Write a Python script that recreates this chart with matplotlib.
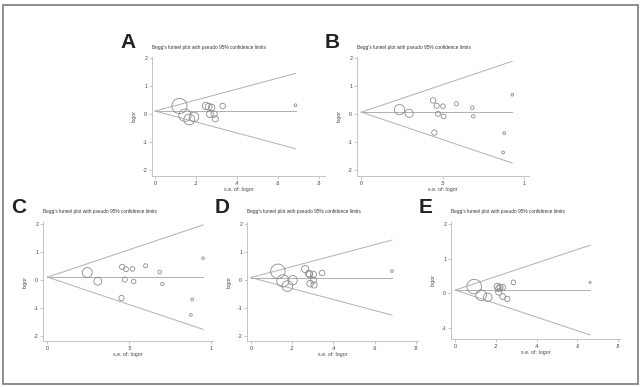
import numpy as np
import matplotlib
matplotlib.use("Agg")
import matplotlib.pyplot as plt
from matplotlib.patches import Rectangle

plt.rcParams["font.family"] = ["Liberation Sans", "DejaVu Sans"]

W, H = 643, 387
TITLE = "Begg's funnel plot with pseudo 95% confidence limits"

# per-study values: s.e. of logor and logor
A_se = [0.119, 0.146, 0.167, 0.190, 0.249, 0.262, 0.276, 0.268, 0.288, 0.294, 0.330, 0.686]
A_logor = [0.29, -0.04, -0.19, -0.10, 0.29, 0.26, 0.24, 0.00, 0.00, -0.17, 0.29, 0.32]
A_theta = 0.11

B_se = [0.235, 0.294, 0.441, 0.463, 0.502, 0.471, 0.506, 0.449, 0.584, 0.682, 0.688, 0.878, 0.871, 0.927]
B_logor = [0.17, 0.04, 0.50, 0.31, 0.29, 0.02, -0.07, -0.65, 0.38, 0.24, -0.07, -0.67, -1.36, 0.70]
B_theta = 0.08

C_se = [0.243, 0.307, 0.456, 0.479, 0.519, 0.472, 0.526, 0.452, 0.599, 0.685, 0.701, 0.883, 0.875, 0.950]
C_logor = [0.26, -0.05, 0.46, 0.38, 0.39, 0.01, -0.06, -0.65, 0.50, 0.28, -0.15, -0.70, -1.25, 0.77]
C_theta = 0.095

D_se = [0.131, 0.155, 0.177, 0.202, 0.263, 0.281, 0.284, 0.303, 0.287, 0.306, 0.303, 0.345, 0.684]
D_logor = [0.32, -0.02, -0.21, 0.00, 0.40, 0.24, 0.21, 0.21, -0.12, -0.17, 0.00, 0.26, 0.33]
D_theta = 0.095

E_se = [0.093, 0.127, 0.160, 0.207, 0.214, 0.220, 0.233, 0.214, 0.233, 0.256, 0.286, 0.663]
E_logor = [0.19, -0.06, -0.12, 0.19, 0.13, 0.17, 0.17, 0.03, -0.10, -0.17, 0.31, 0.31]
E_theta = 0.087

x_ticks_8 = [0, 0.2, 0.4, 0.6, 0.8]
x_labels_8 = ["0", ".2", ".4", ".6", ".8"]
x_ticks_1 = [0, 0.5, 1]
x_labels_1 = ["0", ".5", "1"]

# letter, data, pixel box (left, top, right, bottom), xlim, ylim, x ticks, marker scale
panels = [
    ("A", A_se, A_logor, A_theta, (152, 57, 325, 176), (-0.015, 0.83), (-2.21, 2.04), x_ticks_8, x_labels_8, [-2, -1, 0, 1, 2], 1.7),
    ("B", B_se, B_logor, B_theta, (357, 57, 529, 176), (-0.026, 1.03), (-2.2, 2.05), x_ticks_1, x_labels_1, [-2, -1, 0, 1, 2], 3.0),
    ("C", C_se, C_logor, C_theta, (43, 222, 213, 341), (-0.027, 1.01), (-2.18, 2.06), x_ticks_1, x_labels_1, [-2, -1, 0, 1, 2], 3.0),
    ("D", D_se, D_logor, D_theta, (247, 222, 418, 341), (-0.019, 0.81), (-2.17, 2.08), x_ticks_8, x_labels_8, [-2, -1, 0, 1, 2], 1.85),
    ("E", E_se, E_logor, E_theta, (451, 222, 620, 339), (-0.021, 0.81), (-1.33, 2.06), x_ticks_8, x_labels_8, [-1, 0, 1, 2], 0.95),
]

fig = plt.figure(figsize=(W / 100, H / 100), dpi=100)
fig.add_artist(Rectangle((3 / W, 1 - 384 / H), 635 / W, 379 / H, transform=fig.transFigure,
                         fill=False, edgecolor="#7a7a7a", linewidth=1.2))

for letter, se, lor, theta, (l, t, r, b), xlim, ylim, xt, xl, yt, k in panels:
    ax = fig.add_axes([l / W, 1 - b / H, (r - l) / W, (b - t) / H])
    se = np.array(se)
    lor = np.array(lor)
    smax = se.max()
    gray = "#b0b0b0"
    # pooled estimate and pseudo 95% limits (theta +/- 1.96 se)
    ax.plot([0, smax], [theta, theta], color=gray, lw=0.7)
    ax.plot([0, smax], [theta, theta + 1.96 * smax], color=gray, lw=0.7)
    ax.plot([0, smax], [theta, theta - 1.96 * smax], color=gray, lw=0.7)
    ax.scatter(se, lor, s=k / se ** 2, facecolors="none", edgecolors="#8c8c8c", linewidths=0.6, zorder=3)

    ax.set_xlim(*xlim)
    ax.set_ylim(*ylim)
    ax.set_xticks(xt)
    ax.set_xticklabels(xl)
    ax.set_yticks(yt)
    ax.set_yticklabels([str(v) for v in yt])
    for s in ("top", "right"):
        ax.spines[s].set_visible(False)
    for s in ("left", "bottom"):
        ax.spines[s].set_color("#c4c4c4")
        ax.spines[s].set_linewidth(0.7)
    ax.tick_params(length=2, width=0.5, color="#b0b0b0", labelsize=3.8, labelcolor="#444444", pad=1.5)
    ax.set_xlabel("s.e. of: logor", fontsize=3.8, color="#444444", labelpad=1)
    ax.set_ylabel("logor", fontsize=3.8, color="#444444", labelpad=4)
    ax.patch.set_alpha(0)

    fig.text(l / W, 1 - (t - 10) / H, TITLE, fontsize=3.4, color="#333333", va="center", ha="left")
    fig.text((l - 32) / W, 1 - (t - 9) / H, letter, fontsize=15, fontweight="bold", color="#222222",
             va="baseline", ha="left", family=["Liberation Sans", "DejaVu Sans"])

fig.savefig("out.png", dpi=100)
